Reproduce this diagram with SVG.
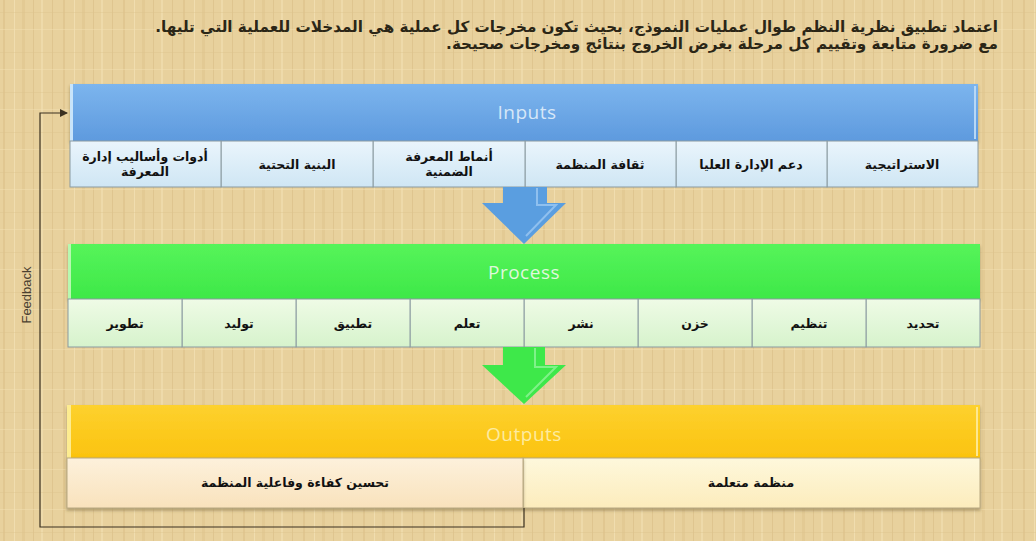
<svg xmlns="http://www.w3.org/2000/svg" width="1036" height="541" viewBox="0 0 1036 541">
<defs>
  <pattern id="papyrus" x="0" y="0" width="60" height="40" patternUnits="userSpaceOnUse">
    <rect width="60" height="40" fill="#e8d19d"/>
    <rect x="3" width="2" height="40" fill="#dcc088" opacity="0.6"/>
    <rect x="14" width="1" height="40" fill="#f2e0b4" opacity="0.8"/>
    <rect x="22" width="3" height="40" fill="#e0c58e" opacity="0.6"/>
    <rect x="33" width="1" height="40" fill="#d6ba82" opacity="0.5"/>
    <rect x="41" width="2" height="40" fill="#f0dcae" opacity="0.8"/>
    <rect x="52" width="1" height="40" fill="#d9bd86" opacity="0.6"/>
    <rect y="12" width="60" height="1" fill="#dcc28c" opacity="0.4"/>
    <rect y="29" width="60" height="1" fill="#f1dfb2" opacity="0.5"/>
  </pattern>
  <linearGradient id="gIn" x1="0" y1="0" x2="0" y2="1">
    <stop offset="0" stop-color="#7cb5ee"/>
    <stop offset="1" stop-color="#5e9ade"/>
  </linearGradient>
  <linearGradient id="gInCell" x1="0" y1="0" x2="0" y2="1">
    <stop offset="0" stop-color="#eaf5fc"/>
    <stop offset="1" stop-color="#cfe6f4"/>
  </linearGradient>
  <linearGradient id="gPr" x1="0" y1="0" x2="0" y2="1">
    <stop offset="0" stop-color="#56f45a"/>
    <stop offset="1" stop-color="#3ee848"/>
  </linearGradient>
  <linearGradient id="gPrCell" x1="0" y1="0" x2="0" y2="1">
    <stop offset="0" stop-color="#effbe6"/>
    <stop offset="1" stop-color="#d6f3cc"/>
  </linearGradient>
  <linearGradient id="gOut" x1="0" y1="0" x2="0" y2="1">
    <stop offset="0" stop-color="#fdd12e"/>
    <stop offset="1" stop-color="#fbc30f"/>
  </linearGradient>
  <linearGradient id="gOutL" x1="0" y1="0" x2="0" y2="1">
    <stop offset="0" stop-color="#fdf1dc"/>
    <stop offset="1" stop-color="#f9e2bc"/>
  </linearGradient>
  <linearGradient id="gOutR" x1="0" y1="0" x2="0" y2="1">
    <stop offset="0" stop-color="#fef8dc"/>
    <stop offset="1" stop-color="#fcecbc"/>
  </linearGradient>
  <marker id="arr" markerWidth="8" markerHeight="8" refX="7" refY="4" orient="auto" markerUnits="userSpaceOnUse">
    <path d="M0,0 L8,4 L0,8 z" fill="#3a3020"/>
  </marker>
  <filter id="sh" x="-5%" y="-20%" width="110%" height="150%">
    <feDropShadow dx="0" dy="2" stdDeviation="1.5" flood-color="#5a4a20" flood-opacity="0.45"/>
  </filter>
</defs>
<style>
  .ar { font-family: "DejaVu Sans", "Noto Sans", sans-serif; font-weight: bold; fill: #111; }
  .title { font-family: "DejaVu Sans", sans-serif; font-size: 15.2px; fill: #2b2616; font-weight: bold; }
  .cell { font-size: 12.5px; text-anchor: middle; }
  .bar { font-family: "Open Sans", "Noto Sans", sans-serif; font-size: 19px; text-anchor: middle; letter-spacing: 0.5px; }
  .cellbox { stroke: #8a9aa0; stroke-width: 1; }
  .fb { fill: none; stroke: #3a3020; stroke-width: 1.2; }
</style>
<rect width="1036" height="541" fill="url(#papyrus)"/>

<g id="title">
  <text class="title" x="998" y="32" direction="rtl" text-anchor="start">اعتماد تطبيق نظرية النظم طوال عمليات النموذج، بحيث تكون مخرجات كل عملية هي المدخلات للعملية التي تليها.</text>
  <text class="title" x="998" y="49" direction="rtl" text-anchor="start">مع ضرورة متابعة وتقييم كل مرحلة بغرض الخروج بنتائج ومخرجات صحيحة.</text>
</g>

<g id="inputs">
  <rect x="70" y="84" width="908" height="57" fill="url(#gIn)" filter="url(#sh)"/>
  <rect x="70" y="84" width="3" height="57" fill="#c8e4fa"/>
  <rect x="974" y="86" width="2" height="53" fill="#b8d8f6"/>
  <text class="bar" x="527" y="119" fill="#d6e7f8">Inputs</text>
  <g class="cellbox">
    <rect x="827" y="141" width="151" height="46" fill="url(#gInCell)"/>
    <rect x="676" y="141" width="151" height="46" fill="url(#gInCell)"/>
    <rect x="525" y="141" width="151" height="46" fill="url(#gInCell)"/>
    <rect x="373" y="141" width="152" height="46" fill="url(#gInCell)"/>
    <rect x="221" y="141" width="152" height="46" fill="url(#gInCell)"/>
    <rect x="70" y="141" width="151" height="46" fill="url(#gInCell)"/>
  </g>
  <text class="ar cell" x="902" y="169" direction="rtl">الاستراتيجية</text>
  <text class="ar cell" x="751" y="169" direction="rtl">دعم الإدارة العليا</text>
  <text class="ar cell" x="600" y="169" direction="rtl">ثقافة المنظمة</text>
  <text class="ar cell" x="449" y="161" direction="rtl">أنماط المعرفة</text>
  <text class="ar cell" x="449" y="176" direction="rtl">الضمنية</text>
  <text class="ar cell" x="297" y="169" direction="rtl">البنية التحتية</text>
  <text class="ar cell" x="145" y="161" direction="rtl">أدوات وأساليب إدارة</text>
  <text class="ar cell" x="145" y="176" direction="rtl">المعرفة</text>
</g>

<g id="process">
  <rect x="68" y="244" width="912" height="55" fill="url(#gPr)" filter="url(#sh)"/>
  <rect x="68" y="244" width="3" height="55" fill="#b8f8b0"/>
  <text class="bar" x="524" y="279" fill="#dff8dc">Process</text>
  <g class="cellbox" stroke="#90a890">
    <rect x="866" y="299" width="114" height="48" fill="url(#gPrCell)"/>
    <rect x="752" y="299" width="114" height="48" fill="url(#gPrCell)"/>
    <rect x="638" y="299" width="114" height="48" fill="url(#gPrCell)"/>
    <rect x="524" y="299" width="114" height="48" fill="url(#gPrCell)"/>
    <rect x="410" y="299" width="114" height="48" fill="url(#gPrCell)"/>
    <rect x="296" y="299" width="114" height="48" fill="url(#gPrCell)"/>
    <rect x="182" y="299" width="114" height="48" fill="url(#gPrCell)"/>
    <rect x="68" y="299" width="114" height="48" fill="url(#gPrCell)"/>
  </g>
  <text class="ar cell" x="923" y="328" direction="rtl">تحديد</text>
  <text class="ar cell" x="809" y="328" direction="rtl">تنظيم</text>
  <text class="ar cell" x="695" y="328" direction="rtl">خزن</text>
  <text class="ar cell" x="581" y="328" direction="rtl">نشر</text>
  <text class="ar cell" x="467" y="328" direction="rtl">تعلم</text>
  <text class="ar cell" x="353" y="328" direction="rtl">تطبيق</text>
  <text class="ar cell" x="239" y="328" direction="rtl">توليد</text>
  <text class="ar cell" x="125" y="328" direction="rtl">تطوير</text>
</g>

<g id="outputs">
  <rect x="67" y="405" width="913" height="53" fill="url(#gOut)" filter="url(#sh)"/>
  <rect x="67" y="405" width="4" height="53" fill="#fdec90"/>
  <rect x="976" y="407" width="2" height="49" fill="#fde890"/>
  <text class="bar" x="524" y="441" fill="#fdeba0">Outputs</text>
  <rect x="523" y="458" width="457" height="50" fill="url(#gOutR)" stroke="#b8a880" filter="url(#sh)"/>
  <rect x="67" y="458" width="456" height="50" fill="url(#gOutL)" stroke="#b8a880" filter="url(#sh)"/>
  <text class="ar cell" x="751" y="487" direction="rtl">منظمة متعلمة</text>
  <text class="ar cell" x="295" y="487" direction="rtl">تحسين كفاءة وفاعلية المنظمة</text>
</g>

<g id="connectors">
  <g id="arrow-in-process">
    <polygon points="503,187 547,187 547,203 566,203 524,244 482,203 503,203" fill="#5a9ee0"/>
    <polyline points="537,188 537,205 556,205 526,236" fill="none" stroke="#9cc8f2" stroke-width="2" opacity="0.8"/>
  </g>
  <g id="arrow-process-out">
    <polygon points="503,347 545,347 545,365 566,365 524,404 482,365 503,365" fill="#3ee84a"/>
    <polyline points="535,348 535,367 556,367 526,397" fill="none" stroke="#90f498" stroke-width="2" opacity="0.8"/>
  </g>
  <path id="feedback" class="fb" d="M524,508 V527 H40 V113 H67" marker-end="url(#arr)"/>
  <text x="31" y="295" transform="rotate(-90 31 295)" text-anchor="middle" font-family="Liberation Sans, Arial, sans-serif" font-size="13" fill="#4a4030">Feedback</text>
</g>
</svg>
